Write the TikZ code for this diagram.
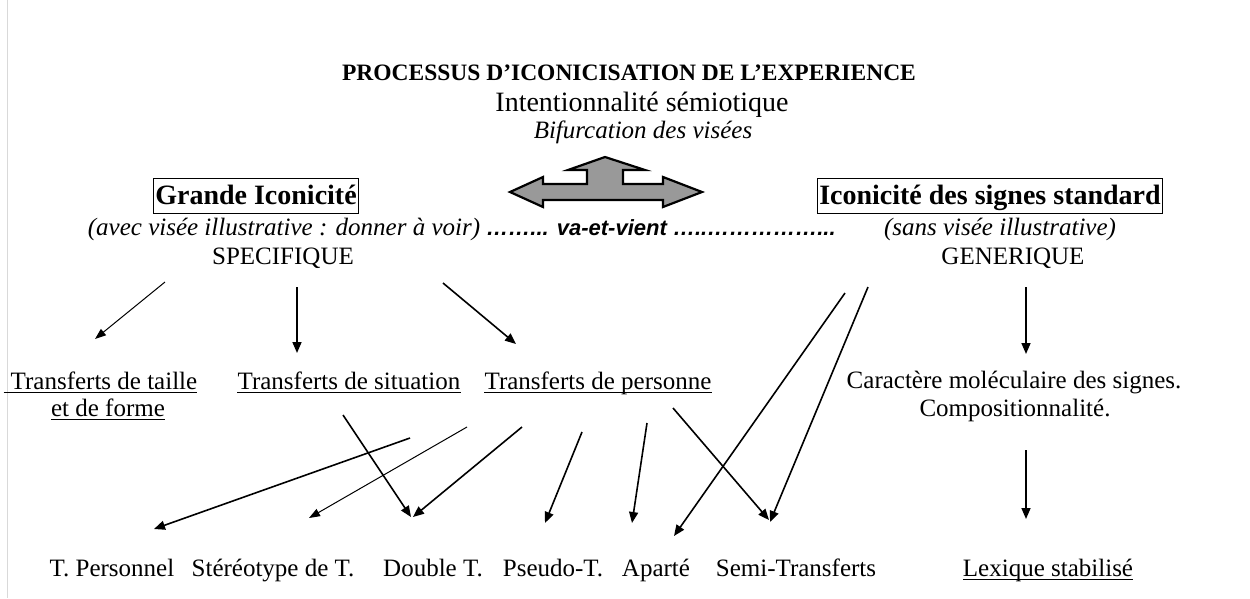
\documentclass[tikz,border=0pt]{standalone}
\usepackage{fontspec}
\setmainfont{Liberation Serif}
\newfontfamily\arialfont{Liberation Sans}
\usetikzlibrary{arrows.meta}
\definecolor{arrowfill}{gray}{0.6}
\definecolor{edgegray}{gray}{0.85}
\begin{document}
\begin{tikzpicture}[x=1pt,y=-1pt,
  txt/.style={inner sep=0pt,anchor=base,font=\fontsize{25}{30}\selectfont},
  itxt/.style={inner sep=0pt,anchor=base,font=\fontsize{25}{30}\selectfont\itshape},
  boxlbl/.style={draw=black,line width=0.9pt,inner sep=2pt,anchor=base,text height=24pt,text depth=7pt,
    font=\fontsize{28}{32}\selectfont\bfseries},
  titletxt/.style={inner sep=0pt,anchor=base,font=\fontsize{23.5}{28}\selectfont\bfseries},
  ulline/.style={line width=1pt},
  thick arrow/.style={line width=1.6pt,-{Triangle[length=11pt,width=9pt]}},
  thin arrow/.style={line width=1pt,-{Triangle[length=11pt,width=8pt]}},
  bigarrow/.style={draw=black,line width=2.2pt,fill=arrowfill,line join=miter}
]
\useasboundingbox (0,0) rectangle (1250,598);
\fill[white] (0,0) rectangle (1250,598);
\draw[edgegray,line width=1pt] (7,0) -- (7,598);

% header
\node[titletxt] (title) at (629,80) {PROCESSUS D’ICONICISATION DE L’EXPERIENCE};
\node[txt,font=\fontsize{28}{32}\selectfont] (intent) at (642,111) {Intentionnalité sémiotique};
\node[itxt] (bifur) at (643,138) {Bifurcation des visées};

% double arrow
\draw[bigarrow] (510,192) -- (543,177) -- (543,184) -- (587,184) -- (587,170) -- (568,170)
  -- (605,157) -- (645,170) -- (623,170) -- (623,184) -- (663,184) -- (663,177) -- (702,192)
  -- (663,207) -- (663,200) -- (543,200) -- (543,207) -- cycle;

% two branches
\node[boxlbl] (grande) at (256,204) {Grande Iconicité};
\node[boxlbl] (iconstd) at (990,204) {Iconicité des signes standard};
\node[itxt] (avec) at (284,235) {(avec visée illustrative : donner à voir)};
\node[inner sep=0pt,anchor=base,font=\fontsize{22}{26}\selectfont\arialfont\bfseries\itshape] (vaet) at (661,235) {……... va-et-vient …..……………...};
\node[itxt] (sans) at (1000,235) {(sans visée illustrative)};
\node[txt] (spec) at (283,264) {SPECIFIQUE};
\node[txt] (gener) at (1013,264) {GENERIQUE};

% middle level
\node[txt] (ttaille) at (104,389) {Transferts de taille};
\node[txt] (tforme) at (108,416) {et de forme};
\node[txt] (tsit) at (349,389) {Transferts de situation};
\node[txt] (tpers) at (598,389) {Transferts de personne};
\node[txt] (carac) at (1014,388) {Caractère moléculaire des signes.};
\node[txt] (compo) at (1015,416) {Compositionnalité.};

% bottom level
\node[txt] (tperso) at (112,576) {T. Personnel};
\node[txt] (stereo) at (273,576) {Stéréotype de T.};
\node[txt] (double) at (433,576) {Double T.};
\node[txt] (pseudo) at (553,576) {Pseudo-T.};
\node[txt] (aparte) at (656,576) {Aparté};
\node[txt] (semi) at (796,576) {Semi-Transferts};
\node[txt] (lexique) at (1048,576) {Lexique stabilisé};

% underlines
\draw[ulline] ([xshift=-7pt,yshift=-3pt]ttaille.base west) -- ([yshift=-3pt]ttaille.base east);
\foreach \n in {tforme,tsit,tpers,lexique}
  \draw[ulline] ([yshift=-3pt]\n.base west) -- ([yshift=-3pt]\n.base east);

% connector end points
\coordinate (a1s) at (165,282); \coordinate (a1e) at (95,339);
\coordinate (a2s) at (297,287); \coordinate (a2e) at (297,353);
\coordinate (a3s) at (443,283); \coordinate (a3e) at (516,344);
\coordinate (g1s) at (1026,287); \coordinate (g1e) at (1026,354);
\coordinate (g2s) at (1026,450); \coordinate (g2e) at (1026,519);
\coordinate (l1s) at (845,293); \coordinate (l1e) at (674,536);
\coordinate (l2s) at (868,287); \coordinate (l2e) at (770,522);
\coordinate (b1s) at (410,438); \coordinate (b1e) at (154,529);
\coordinate (b2s) at (467,427); \coordinate (b2e) at (309,518);
\coordinate (b3s) at (522,427); \coordinate (b3e) at (413,517);
\coordinate (b4s) at (343,415); \coordinate (b4e) at (411,517);
\coordinate (b5s) at (582,432); \coordinate (b5e) at (545,523);
\coordinate (b6s) at (647,423); \coordinate (b6e) at (632,523);
\coordinate (b7s) at (673,408); \coordinate (b7e) at (769,520);

% connectors
\draw[thin arrow] (a1s) -- (a1e);
\draw[thick arrow] (a2s) -- (a2e);
\draw[thick arrow] (a3s) -- (a3e);
\draw[thick arrow] (g1s) -- (g1e);
\draw[thick arrow] (g2s) -- (g2e);
\draw[thick arrow] (l1s) -- (l1e);
\draw[thick arrow] (l2s) -- (l2e);
\draw[thick arrow] (b1s) -- (b1e);
\draw[thin arrow] (b2s) -- (b2e);
\draw[thick arrow] (b3s) -- (b3e);
\draw[thick arrow] (b4s) -- (b4e);
\draw[thick arrow] (b5s) -- (b5e);
\draw[thick arrow] (b6s) -- (b6e);
\draw[thick arrow] (b7s) -- (b7e);
\end{tikzpicture}
\end{document}
